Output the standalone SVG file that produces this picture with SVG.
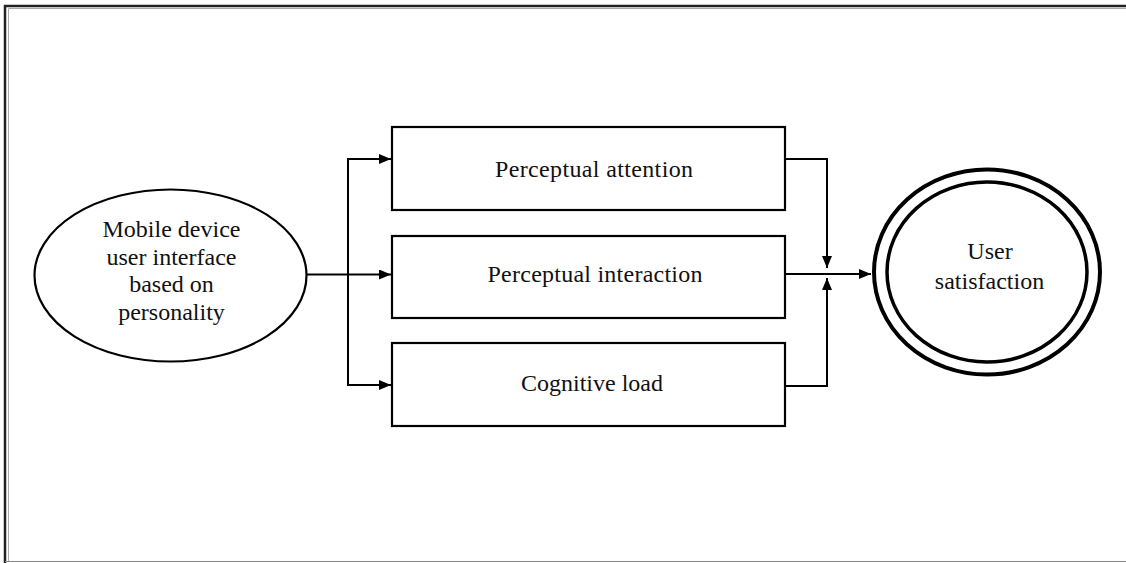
<svg xmlns="http://www.w3.org/2000/svg" width="1126" height="563" viewBox="0 0 1126 563">
<defs>
<style>
.box{fill:#fff;stroke:#000;stroke-width:2.2}
.t{font-family:"Liberation Serif","Times New Roman",serif;font-size:24px;fill:#111;text-anchor:middle}
.c{fill:none;stroke:#000;stroke-width:2}
</style>
<marker id="ah" viewBox="0 0 12 10" refX="12" refY="5" markerWidth="12" markerHeight="10" markerUnits="userSpaceOnUse" orient="auto">
<path d="M0,0 L12,5 L0,10 z" fill="#000"/>
</marker>
</defs>
<rect width="1126" height="563" fill="#fff"/>
<g id="frame">
<path d="M5,563 V6 H1126" fill="none" stroke="#222" stroke-width="2.5"/>
<path d="M8.5,561 V8.5 H1126" fill="none" stroke="#aaa" stroke-width="1"/>
<path d="M5,561.5 H1126" fill="none" stroke="#888" stroke-width="1.2"/>
</g>
<g id="connectors">
<path class="c" d="M307,274.5 H391" marker-end="url(#ah)"/>
<path class="c" d="M348,274.5 V159 H391" marker-end="url(#ah)"/>
<path class="c" d="M348,274.5 V385 H391" marker-end="url(#ah)"/>
<path class="c" d="M785,159 H827 V268" marker-end="url(#ah)"/>
<path class="c" d="M785,386 H827 V278" marker-end="url(#ah)"/>
<path class="c" d="M785,274 H871" marker-end="url(#ah)"/>
</g>
<g id="node-mobile">
<ellipse cx="170.5" cy="275.5" rx="136" ry="86" class="box"/>
<text class="t" x="171.5" y="236.5">Mobile device</text>
<text class="t" x="171.5" y="264.5">user interface</text>
<text class="t" x="171.5" y="292">based on</text>
<text class="t" x="171.5" y="319.5">personality</text>
</g>
<g id="node-attention">
<rect x="392" y="127" width="393" height="83" class="box"/>
<text class="t" x="594" y="177" textLength="198" lengthAdjust="spacing">Perceptual attention</text>
</g>
<g id="node-interaction">
<rect x="392" y="236" width="393" height="82" class="box"/>
<text class="t" x="595" y="282" textLength="215" lengthAdjust="spacing">Perceptual interaction</text>
</g>
<g id="node-cognitive">
<rect x="392" y="343" width="393" height="83" class="box"/>
<text class="t" x="592" y="391">Cognitive load</text>
</g>
<g id="node-satisfaction">
<ellipse cx="987" cy="272" rx="113" ry="102.5" fill="#fff" stroke="#000" stroke-width="4"/>
<ellipse cx="987" cy="272" rx="100" ry="90" fill="none" stroke="#000" stroke-width="3.5"/>
<text class="t" x="990" y="258.5">User</text>
<text class="t" x="989.5" y="288.5">satisfaction</text>
</g>
</svg>
